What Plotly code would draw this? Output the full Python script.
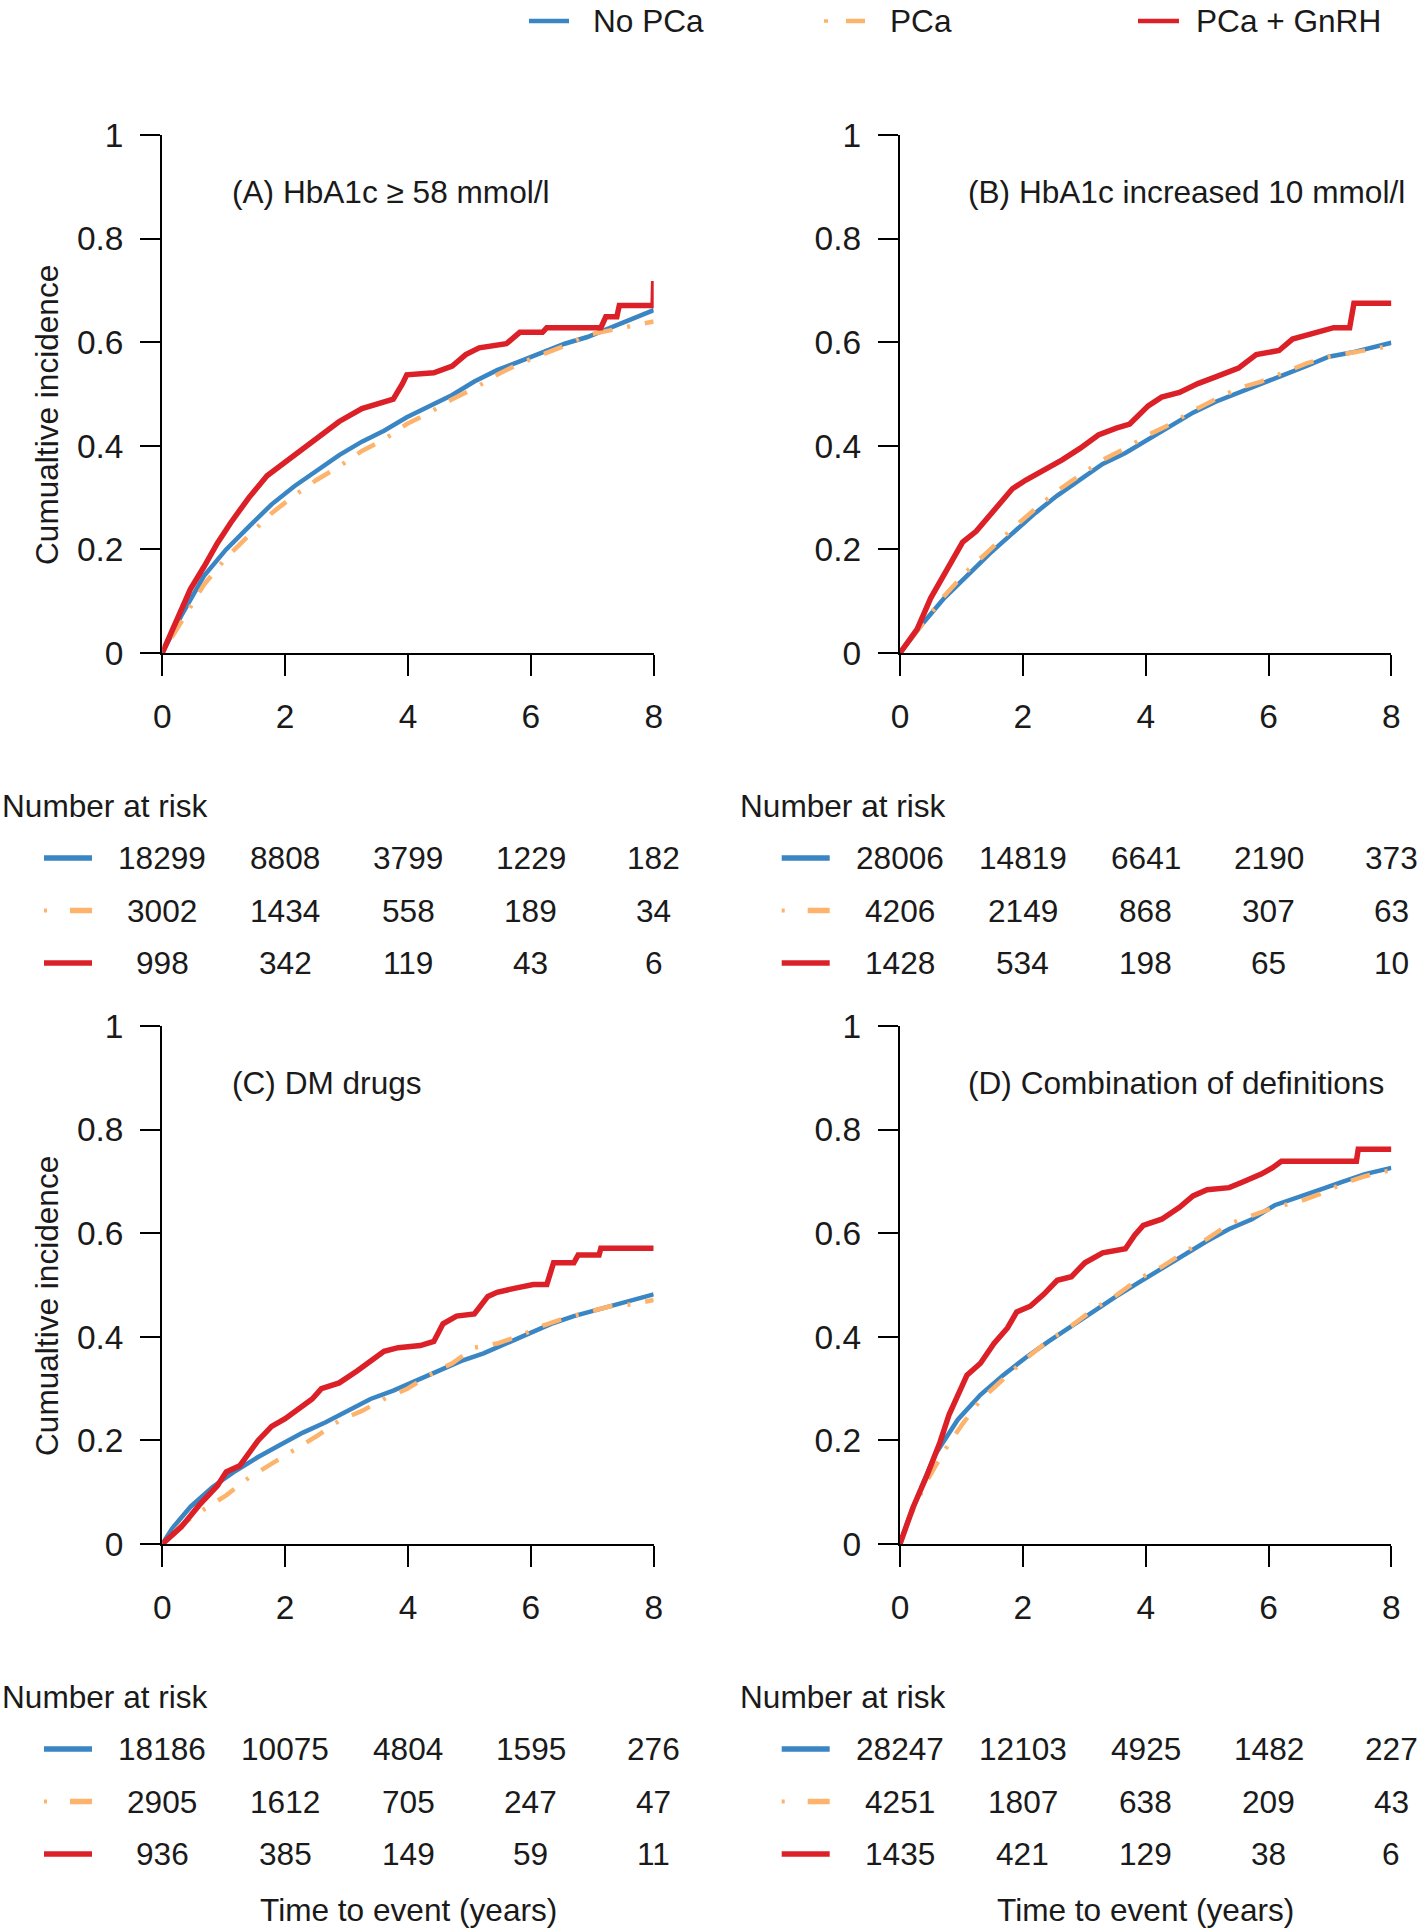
import plotly.graph_objects as go

# ---------------- data ----------------
TIME_TICKS = [0, 2, 4, 6, 8]
CI_TICKS = [0, 0.2, 0.4, 0.6, 0.8, 1]
CI_TICK_TEXT = ["0", "0.2", "0.4", "0.6", "0.8", "1"]
GROUPS = ["No PCa", "PCa", "PCa + GnRH"]
PANEL_TITLES = ["(A) HbA1c \u2265 58 mmol/l", "(B) HbA1c increased 10 mmol/l",
                "(C) DM drugs", "(D) Combination of definitions"]

# Panel A
A_nopca_t = [0, 0.31, 0.68, 1.04, 1.41, 1.78, 2.15, 2.51, 2.88, 3.25, 3.61, 3.98, 4.35, 4.72, 5.08, 5.45, 5.82, 6.19, 6.55, 6.92, 7.29, 7.66, 8.0]
A_nopca_ci = [0, 0.072, 0.149, 0.200, 0.244, 0.287, 0.322, 0.352, 0.382, 0.408, 0.429, 0.455, 0.477, 0.498, 0.524, 0.546, 0.563, 0.580, 0.597, 0.610, 0.628, 0.645, 0.662]
A_pca_t = [0, 0.31, 0.68, 1.04, 1.41, 1.78, 2.15, 2.51, 2.88, 3.25, 3.61, 3.98, 4.35, 4.72, 5.08, 5.45, 5.82, 6.19, 6.55, 6.92, 7.29, 7.66, 8.0]
A_pca_ci = [0, 0.059, 0.132, 0.184, 0.227, 0.270, 0.304, 0.334, 0.360, 0.390, 0.412, 0.442, 0.464, 0.490, 0.511, 0.537, 0.559, 0.576, 0.593, 0.614, 0.623, 0.632, 0.640]
A_gnrh_t = [0, 0.235, 0.456, 0.676, 0.896, 1.117, 1.41, 1.705, 1.925, 2.22, 2.51, 2.88, 3.25, 3.54, 3.76, 3.91, 3.98, 4.42, 4.72, 4.94, 5.16, 5.60, 5.82, 6.19, 6.26, 7.14, 7.22, 7.40, 7.44, 7.99, 8.0]
A_gnrh_ci = [0, 0.063, 0.123, 0.166, 0.212, 0.252, 0.300, 0.342, 0.362, 0.390, 0.416, 0.447, 0.472, 0.481, 0.490, 0.520, 0.537, 0.541, 0.554, 0.576, 0.589, 0.597, 0.619, 0.619, 0.628, 0.628, 0.649, 0.649, 0.671, 0.671, 0.718]

# Panel B
B_nopca_t = [0, 0.35, 0.72, 1.09, 1.46, 1.83, 2.20, 2.56, 2.93, 3.30, 3.67, 4.04, 4.41, 4.77, 5.14, 5.51, 5.88, 6.25, 6.62, 6.98, 7.35, 8.0]
B_nopca_ci = [0, 0.054, 0.106, 0.149, 0.192, 0.231, 0.270, 0.304, 0.334, 0.365, 0.386, 0.412, 0.438, 0.464, 0.485, 0.503, 0.520, 0.537, 0.554, 0.572, 0.580, 0.599]
B_pca_t = [0, 0.35, 0.72, 1.09, 1.46, 1.83, 2.20, 2.56, 2.93, 3.30, 3.67, 4.04, 4.41, 4.77, 5.14, 5.51, 5.88, 6.25, 6.62, 6.98, 7.35, 8.0]
B_pca_ci = [0, 0.054, 0.110, 0.158, 0.200, 0.240, 0.278, 0.313, 0.343, 0.373, 0.395, 0.421, 0.442, 0.468, 0.490, 0.511, 0.524, 0.541, 0.559, 0.572, 0.580, 0.593]
B_gnrh_t = [0, 0.28, 0.50, 0.80, 1.02, 1.24, 1.53, 1.83, 2.05, 2.34, 2.64, 2.93, 3.23, 3.52, 3.74, 4.04, 4.26, 4.55, 4.85, 5.14, 5.51, 5.80, 6.17, 6.39, 6.69, 7.06, 7.32, 7.39, 8.0]
B_gnrh_ci = [0, 0.046, 0.106, 0.166, 0.214, 0.235, 0.274, 0.317, 0.334, 0.352, 0.373, 0.395, 0.421, 0.434, 0.442, 0.477, 0.494, 0.503, 0.520, 0.533, 0.550, 0.576, 0.584, 0.606, 0.615, 0.628, 0.628, 0.675, 0.675]

# Panel C
C_nopca_t = [0, 0.16, 0.46, 0.82, 1.19, 1.56, 1.93, 2.29, 2.66, 3.03, 3.39, 3.76, 4.13, 4.50, 4.86, 5.23, 5.60, 5.97, 6.33, 6.70, 7.07, 7.44, 8.0]
C_nopca_ci = [0, 0.030, 0.072, 0.110, 0.141, 0.168, 0.192, 0.215, 0.235, 0.257, 0.280, 0.296, 0.315, 0.334, 0.353, 0.368, 0.387, 0.406, 0.425, 0.440, 0.452, 0.463, 0.482]
C_pca_t = [0, 0.31, 0.68, 1.04, 1.41, 1.78, 2.15, 2.51, 2.88, 3.25, 3.61, 3.98, 4.35, 4.72, 5.08, 5.45, 5.82, 6.19, 6.55, 6.92, 7.29, 7.66, 8.0]
C_pca_ci = [0, 0.037, 0.067, 0.094, 0.128, 0.155, 0.181, 0.208, 0.238, 0.257, 0.280, 0.299, 0.326, 0.349, 0.379, 0.387, 0.402, 0.421, 0.436, 0.448, 0.459, 0.463, 0.471]
C_gnrh_t = [0, 0.31, 0.60, 0.90, 1.04, 1.26, 1.56, 1.78, 2.0, 2.22, 2.44, 2.59, 2.88, 3.17, 3.39, 3.61, 3.84, 4.20, 4.42, 4.57, 4.79, 5.08, 5.30, 5.45, 5.75, 6.04, 6.26, 6.37, 6.70, 6.77, 7.11, 7.14, 8.0]
C_gnrh_ci = [0, 0.033, 0.075, 0.113, 0.139, 0.151, 0.200, 0.227, 0.242, 0.261, 0.280, 0.300, 0.311, 0.334, 0.353, 0.372, 0.379, 0.383, 0.391, 0.425, 0.440, 0.444, 0.478, 0.486, 0.494, 0.501, 0.501, 0.543, 0.543, 0.558, 0.558, 0.571, 0.571]

# Panel D
D_nopca_t = [0, 0.13, 0.35, 0.57, 0.94, 1.31, 1.68, 2.05, 2.42, 2.79, 3.15, 3.52, 3.89, 4.26, 4.63, 5.0, 5.36, 5.73, 6.10, 6.47, 6.84, 7.20, 7.57, 8.0]
D_nopca_ci = [0, 0.045, 0.110, 0.172, 0.240, 0.288, 0.326, 0.360, 0.391, 0.421, 0.448, 0.478, 0.505, 0.532, 0.558, 0.585, 0.608, 0.627, 0.654, 0.670, 0.684, 0.699, 0.714, 0.726]
D_pca_t = [0, 0.13, 0.43, 0.72, 1.02, 1.31, 1.68, 2.05, 2.42, 2.79, 3.15, 3.52, 3.89, 4.26, 4.63, 5.0, 5.36, 5.73, 6.10, 6.47, 6.84, 7.20, 7.57, 8.0]
D_pca_ci = [0, 0.045, 0.120, 0.180, 0.232, 0.278, 0.318, 0.358, 0.393, 0.421, 0.453, 0.480, 0.512, 0.535, 0.563, 0.589, 0.618, 0.634, 0.650, 0.660, 0.676, 0.695, 0.710, 0.722]
D_gnrh_t = [0, 0.21, 0.43, 0.65, 0.80, 0.94, 1.09, 1.31, 1.53, 1.75, 1.90, 2.12, 2.34, 2.56, 2.79, 3.01, 3.30, 3.67, 3.82, 3.96, 4.26, 4.55, 4.77, 5.0, 5.36, 5.58, 5.88, 6.06, 6.21, 7.43, 7.46, 8.0]
D_gnrh_ci = [0, 0.070, 0.130, 0.196, 0.250, 0.288, 0.326, 0.349, 0.387, 0.417, 0.448, 0.459, 0.482, 0.509, 0.516, 0.543, 0.562, 0.570, 0.596, 0.615, 0.627, 0.650, 0.672, 0.684, 0.688, 0.699, 0.714, 0.726, 0.739, 0.739, 0.762, 0.762]

# Number at risk (at 0, 2, 4, 6, 8 years)
A_risk_nopca = [18299, 8808, 3799, 1229, 182]
A_risk_pca = [3002, 1434, 558, 189, 34]
A_risk_gnrh = [998, 342, 119, 43, 6]
B_risk_nopca = [28006, 14819, 6641, 2190, 373]
B_risk_pca = [4206, 2149, 868, 307, 63]
B_risk_gnrh = [1428, 534, 198, 65, 10]
C_risk_nopca = [18186, 10075, 4804, 1595, 276]
C_risk_pca = [2905, 1612, 705, 247, 47]
C_risk_gnrh = [936, 385, 149, 59, 11]
D_risk_nopca = [28247, 12103, 4925, 1482, 227]
D_risk_pca = [4251, 1807, 638, 209, 43]
D_risk_gnrh = [1435, 421, 129, 38, 6]

# ---------------- styling ----------------
W, H = 1418, 1930
FONT = "Liberation Sans, Arial, Helvetica, sans-serif"
FS = 31.6
FS_TICK = 33.5
TXT = "#1a1a1a"
BLUE = "#3A86C4"
ORANGE = "#FDB36C"
RED = "#DC2027"
STYLES = [
    dict(color=BLUE, width=4.5, dash="solid"),
    dict(color=ORANGE, width=4.5, dash="3px,15px,20px,15px"),
    dict(color=RED, width=5.5, dash="solid"),
]


def px(x):
    return x / W


def py(y):
    return 1 - y / H


panels = [
    dict(curves=[(A_nopca_t, A_nopca_ci), (A_pca_t, A_pca_ci), (A_gnrh_t, A_gnrh_ci)],
         risk=[A_risk_nopca, A_risk_pca, A_risk_gnrh], left=162.3, top=135.0),
    dict(curves=[(B_nopca_t, B_nopca_ci), (B_pca_t, B_pca_ci), (B_gnrh_t, B_gnrh_ci)],
         risk=[B_risk_nopca, B_risk_pca, B_risk_gnrh], left=900.0, top=135.0),
    dict(curves=[(C_nopca_t, C_nopca_ci), (C_pca_t, C_pca_ci), (C_gnrh_t, C_gnrh_ci)],
         risk=[C_risk_nopca, C_risk_pca, C_risk_gnrh], left=162.3, top=1026.0),
    dict(curves=[(D_nopca_t, D_nopca_ci), (D_pca_t, D_pca_ci), (D_gnrh_t, D_gnrh_ci)],
         risk=[D_risk_nopca, D_risk_pca, D_risk_gnrh], left=900.0, top=1026.0),
]
PW, PH = 491.4, 518.0

fig = go.Figure()
annotations = []
shapes = []
layout_axes = {}

for i, p in enumerate(panels):
    k = "" if i == 0 else str(i + 1)
    xa, ya = "x" + k, "y" + k
    left, top = p["left"], p["top"]
    bottom = top + PH
    layout_axes["xaxis" + k] = dict(
        domain=[px(left), px(left + PW)], anchor=ya, range=[0, 8], automargin=False,
        tickvals=TIME_TICKS, ticks="outside", ticklen=21, tickwidth=2.2, tickcolor="black",
        showline=True, linecolor="black", linewidth=2.2, showgrid=False, zeroline=False,
        tickfont=dict(size=FS_TICK, color=TXT, family=FONT), ticklabelstandoff=12,
        fixedrange=True)
    layout_axes["yaxis" + k] = dict(
        domain=[py(bottom), py(top)], anchor=xa, range=[0, 1], automargin=False,
        tickvals=CI_TICKS, ticktext=CI_TICK_TEXT, ticks="outside", ticklen=20, tickwidth=2.2,
        tickcolor="black", showline=True, linecolor="black", linewidth=2.2, showgrid=False,
        zeroline=False, tickfont=dict(size=FS_TICK, color=TXT, family=FONT),
        ticklabelstandoff=10, fixedrange=True)

    for g, ((t, ci), st) in enumerate(zip(p["curves"], STYLES)):
        fig.add_trace(go.Scatter(x=t, y=ci, mode="lines", xaxis=xa, yaxis=ya,
                                 line=st, name=GROUPS[g], showlegend=False,
                                 hoverinfo="skip"))

    # panel title
    annotations.append(dict(x=1.1 if i % 2 == 0 else 1.075, y=0.89, xref=xa, yref=ya,
                            text=PANEL_TITLES[i], showarrow=False, xanchor="left",
                            yanchor="middle", font=dict(size=FS, color=TXT, family=FONT)))
    # y axis title
    if i % 2 == 0:
        annotations.append(dict(x=px(47), y=py(top + PH / 2 + 21), xref="paper", yref="paper",
                                text="Cumualtive incidence", textangle=-90, showarrow=False,
                                xanchor="center", yanchor="middle",
                                font=dict(size=FS, color=TXT, family=FONT)))

    # number at risk table
    off = left - 162.3
    head_y = bottom + 153
    annotations.append(dict(x=px(off), y=py(head_y), xref="paper", yref="paper",
                            text="Number at risk", showarrow=False, xanchor="left",
                            yanchor="middle", font=dict(size=FS, color=TXT, family=FONT)))
    for g, vals in enumerate(p["risk"]):
        ry = bottom + 205 + g * 52.5
        for tt, v in zip(TIME_TICKS, vals):
            annotations.append(dict(x=tt, y=py(ry), xref=xa, yref="paper", text=str(v),
                                    showarrow=False, xanchor="center", yanchor="middle",
                                    font=dict(size=FS, color=TXT, family=FONT)))
        st = STYLES[g]
        if g == 1:
            shapes.append(dict(type="line", xref="paper", yref="paper",
                               x0=px(off + 44), x1=px(off + 47), y0=py(ry), y1=py(ry),
                               line=dict(color=st["color"], width=4)))
            shapes.append(dict(type="line", xref="paper", yref="paper",
                               x0=px(off + 70), x1=px(off + 92), y0=py(ry), y1=py(ry),
                               line=dict(color=st["color"], width=5.5)))
        else:
            shapes.append(dict(type="line", xref="paper", yref="paper",
                               x0=px(off + 44), x1=px(off + 92), y0=py(ry), y1=py(ry),
                               line=dict(color=st["color"], width=5.5)))
    if i >= 2:
        annotations.append(dict(x=4, y=py(1910), xref=xa, yref="paper",
                                text="Time to event (years)", showarrow=False,
                                xanchor="center", yanchor="middle",
                                font=dict(size=FS, color=TXT, family=FONT)))

# top legend
LEG_Y = 21
leg_items = [(529, 569, 591), (846, 865, 888), (1138, 1179, 1194)]
for g, (x0, x1, tx) in enumerate(leg_items):
    st = STYLES[g]
    if g == 1:
        shapes.append(dict(type="line", xref="paper", yref="paper", x0=px(824), x1=px(828),
                           y0=py(LEG_Y), y1=py(LEG_Y), line=dict(color=st["color"], width=3.5)))
    shapes.append(dict(type="line", xref="paper", yref="paper", x0=px(x0), x1=px(x1),
                       y0=py(LEG_Y), y1=py(LEG_Y), line=dict(color=st["color"], width=4.5)))
    annotations.append(dict(x=px(tx), y=py(LEG_Y), xref="paper", yref="paper",
                            text=GROUPS[g], showarrow=False, xanchor="left", yanchor="middle",
                            font=dict(size=FS, color=TXT, family=FONT)))

fig.update_layout(
    width=W, height=H, margin=dict(l=0, r=0, t=0, b=0, pad=0, autoexpand=False),
    paper_bgcolor="white", plot_bgcolor="white",
    font=dict(family=FONT, size=FS, color=TXT),
    showlegend=False, annotations=annotations, shapes=shapes, **layout_axes)

# remove the browser's default page margin so the figure sits at the page origin
fig.write_html("out.html", config={"displayModeBar": False},
               post_script="document.body.style.margin='0';document.body.style.overflow='hidden';")
